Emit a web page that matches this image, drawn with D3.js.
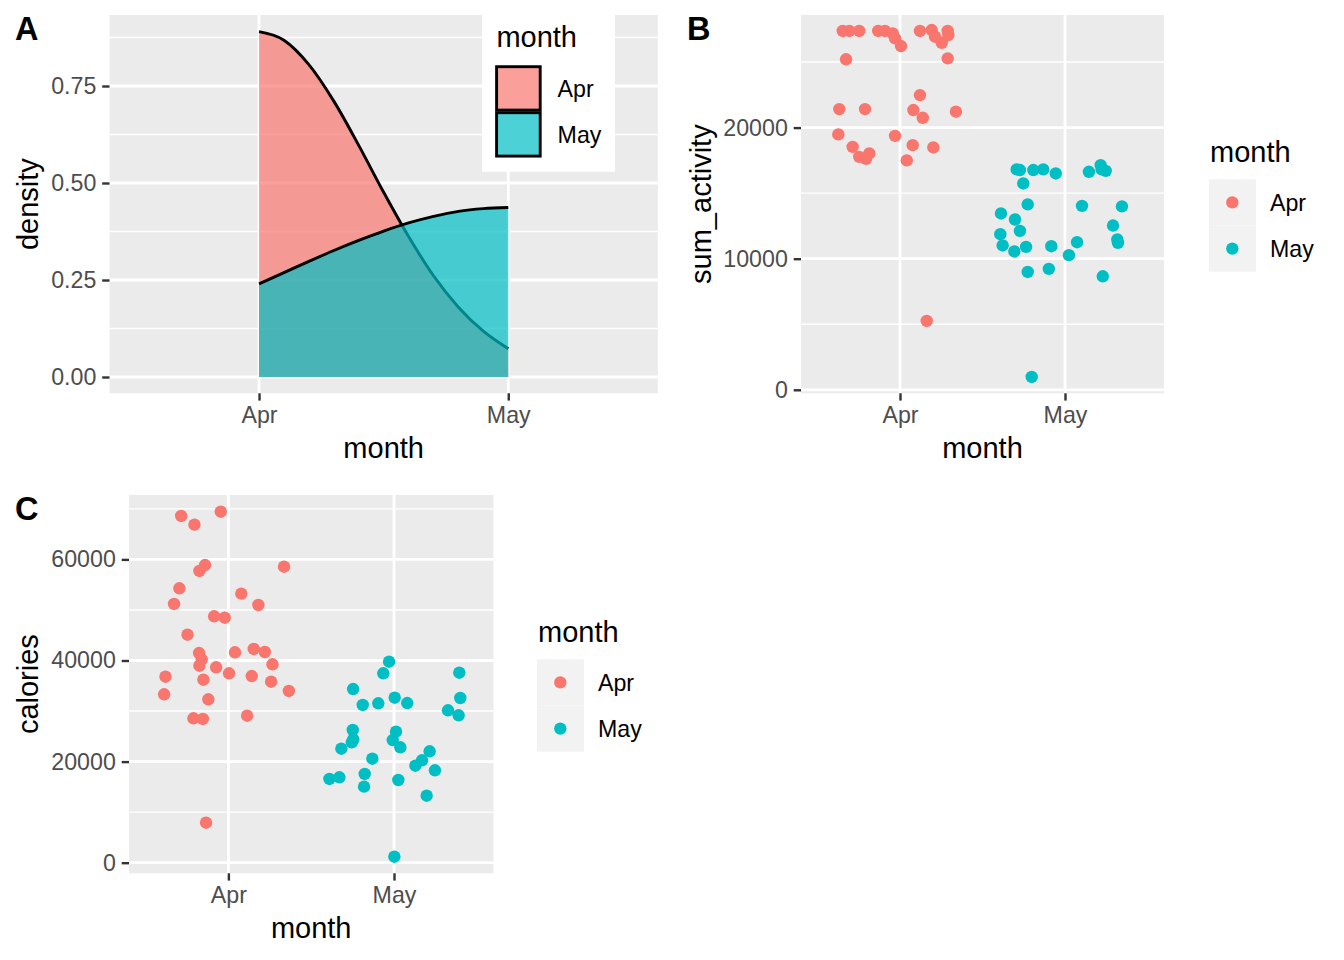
<!DOCTYPE html>
<html>
<head>
<meta charset="utf-8">
<script src="https://cdn.jsdelivr.net/npm/d3@7"></script>
<style>
  body { margin: 0; background: #fff; }
  svg { display: block; font-family: "Liberation Sans", Arial, sans-serif; }
</style>
</head>
<body>
<div id="chart"></div>
<script>
const months = ['Apr', 'May'];
const monthColors = ['#F8766D', '#00BFC4'];

// panel A: density curves read between Apr (1) and May (2)
const densityX = [1.0, 1.1, 1.2, 1.3, 1.4, 1.5, 1.6, 1.7, 1.8, 1.9, 2.0];
const densityApr = [0.890, 0.868, 0.805, 0.711, 0.597, 0.476, 0.362, 0.261, 0.180, 0.118, 0.073];
const densityMay = [0.240, 0.269, 0.298, 0.326, 0.352, 0.376, 0.397, 0.414, 0.427, 0.434, 0.437];
const densityTicks = [0, 0.25, 0.5, 0.75];

// panel B: sum_activity, jittered month position + value
const activityAprX = [0.653, 0.693, 0.753, 0.868, 0.909, 0.956, 0.970, 1.006, 1.121, 1.192, 1.212, 1.253, 1.289, 1.293, 0.673, 1.289,
  1.121, 0.632, 0.788, 1.081, 1.138, 1.339, 0.626, 0.970, 0.713, 1.077, 1.202, 0.753, 0.794, 0.814, 1.041, 1.162];
const activityApr = [27370, 27370, 27370, 27370, 27370, 27190, 26810, 26220, 27370, 27440, 26930, 26470, 27370, 27060, 25210, 25280,
  22480, 21410, 21410, 21340, 20750, 21210, 19480, 19370, 18530, 18660, 18490, 17770, 17620, 18030, 17500, 5250];
const activityMayX = [1.707, 1.727, 1.808, 1.868, 1.944, 1.747, 2.145, 2.216, 2.222, 2.247, 1.774, 2.103, 2.345, 1.612, 1.697,
  1.727, 1.608, 1.622, 1.693, 1.764, 1.917, 2.073, 2.291, 2.317, 2.321, 2.024, 1.774, 1.902, 2.229, 1.798];
const activityMay = [16810, 16760, 16760, 16810, 16500, 15740, 16630, 17140, 16810, 16700, 14140, 14030, 13990, 13450, 12990,
  12120, 11870, 11010, 10550, 10900, 10950, 11260, 12530, 11470, 11210, 10270, 8990, 9220, 8660, 980];
const activityTicks = [0, 10000, 20000];

// panel C: calories
const caloriesAprX = [0.715, 0.795, 0.954, 0.859, 0.825, 1.336, 0.704, 0.672, 1.078, 1.181, 0.914, 0.978, 0.753, 0.823, 0.839, 0.825, 1.040,
  1.153, 1.220, 1.266, 0.620, 0.849, 0.926, 1.004, 1.141, 1.258, 1.365, 0.612, 0.879, 0.789, 0.846, 1.113, 0.865];
const caloriesApr = [68600, 66870, 69440, 58890, 57710, 58560, 54280, 51180, 53220, 50980, 48740, 48470, 45100, 41480, 40240, 38970, 41620,
  42280, 41680, 39250, 36800, 36200, 38660, 37470, 36930, 35810, 33970, 33310, 32320, 28570, 28430, 29080, 7910];
const caloriesMayX = [1.970, 1.935, 2.394, 1.753, 1.811, 1.905, 2.004, 2.080, 2.400, 2.326, 2.390, 1.751, 1.754, 1.745, 1.682,
  2.012, 1.992, 2.038, 1.869, 2.215, 2.169, 2.129, 2.247, 1.610, 1.670, 1.823, 1.819, 2.026, 2.197, 2.002];
const caloriesMay = [39760, 37470, 37590, 34360, 31200, 31530, 32640, 31590, 32580, 30150, 29160, 26250, 24410, 23820, 22550,
  25920, 24270, 22830, 20570, 22040, 20260, 19190, 18280, 16560, 16890, 17550, 15040, 16360, 13250, 1190];
const caloriesTicks = [0, 20000, 40000, 60000];

const width = 1344;
const height = 960;
const tickFont = 23.2;
const titleFont = 29;

const svg = d3.select('#chart')
  .append('svg')
  .attr('width', width)
  .attr('height', height)
  .attr('viewBox', [0, 0, width, height]);

svg.append('rect').attr('width', width).attr('height', height).attr('fill', '#fff');

function panel(box, yDomain, yTicks, minorTicks, fmt, yTitle, titleX) {
  const x = d3.scaleLinear().domain([0.4, 2.6]).range([box.x0, box.x1]);
  const y = d3.scaleLinear().domain(yDomain).range([box.y1, box.y0]);
  const g = svg.append('g');

  g.append('rect')
    .attr('x', box.x0).attr('y', box.y0)
    .attr('width', box.x1 - box.x0).attr('height', box.y1 - box.y0)
    .attr('fill', '#EBEBEB');

  g.selectAll('.minor').data(minorTicks).join('line')
    .attr('x1', box.x0).attr('x2', box.x1)
    .attr('y1', d => y(d)).attr('y2', d => y(d))
    .attr('stroke', '#fff').attr('stroke-width', 1.4);
  g.selectAll('.majorY').data(yTicks).join('line')
    .attr('x1', box.x0).attr('x2', box.x1)
    .attr('y1', d => y(d)).attr('y2', d => y(d))
    .attr('stroke', '#fff').attr('stroke-width', 2.8);
  g.selectAll('.majorX').data([1, 2]).join('line')
    .attr('x1', d => x(d)).attr('x2', d => x(d))
    .attr('y1', box.y0).attr('y2', box.y1)
    .attr('stroke', '#fff').attr('stroke-width', 2.8);

  const yAxis = svg.append('g')
    .attr('transform', `translate(${box.x0},0)`)
    .call(d3.axisLeft(y).tickValues(yTicks).tickSize(7.3).tickPadding(5.9).tickFormat(fmt));
  const xAxis = svg.append('g')
    .attr('transform', `translate(0,${box.y1})`)
    .call(d3.axisBottom(x).tickValues([1, 2]).tickSize(7.3).tickPadding(5.9).tickFormat(d => months[d - 1]));
  [yAxis, xAxis].forEach(a => {
    a.attr('font-size', null).attr('font-family', null);
    a.select('.domain').remove();
    a.selectAll('.tick line').attr('stroke', '#333333').attr('stroke-width', 2.4);
    a.selectAll('.tick text').attr('fill', '#4D4D4D').attr('font-size', tickFont);
  });

  svg.append('text')
    .attr('x', (box.x0 + box.x1) / 2).attr('y', box.y1 + 65)
    .attr('text-anchor', 'middle').attr('font-size', titleFont)
    .text('month');
  svg.append('text')
    .attr('transform', `translate(${titleX},${(box.y0 + box.y1) / 2}) rotate(-90)`)
    .attr('text-anchor', 'middle').attr('font-size', titleFont)
    .text(yTitle);

  return {x, y, g};
}

function pointLegend(x0, y0) {
  const lg = svg.append('g').attr('transform', `translate(${x0},${y0})`);
  lg.append('text').attr('x', 1).attr('y', -17.6).attr('font-size', titleFont).text('month');
  months.forEach((m, i) => {
    lg.append('rect').attr('x', 0).attr('y', i * 46.2).attr('width', 47).attr('height', 46.2).attr('fill', '#F2F2F2');
    lg.append('circle').attr('cx', 23.3).attr('cy', i * 46.2 + 23.1).attr('r', 6.2).attr('fill', monthColors[i]);
    lg.append('text').attr('x', 61).attr('y', i * 46.2 + 23.1 + 8.3).attr('font-size', tickFont).text(m);
  });
}

function drawPoints(p, xs, ys, color) {
  p.g.append('g').selectAll('circle').data(ys).join('circle')
    .attr('cx', (d, i) => p.x(xs[i]))
    .attr('cy', d => p.y(d))
    .attr('r', 6.2)
    .attr('fill', color);
}

// ---- A: density
const pa = panel({x0: 109.5, x1: 657.8, y0: 15, y1: 393.3}, [-0.042, 0.933], densityTicks,
  [0.125, 0.375, 0.625, 0.875], d3.format('.2f'), 'density', 38);

[densityApr, densityMay].forEach((vals, k) => {
  const pts = densityX.map((d, i) => [d, vals[i]]);
  const area = d3.area().x(d => pa.x(d[0])).y0(pa.y(0)).y1(d => pa.y(d[1])).curve(d3.curveMonotoneX);
  const line = d3.line().x(d => pa.x(d[0])).y(d => pa.y(d[1])).curve(d3.curveMonotoneX);
  pa.g.append('path').attr('d', area(pts)).attr('fill', monthColors[k]).attr('fill-opacity', 0.7);
  pa.g.append('path').attr('d', line(pts)).attr('fill', 'none').attr('stroke', '#000').attr('stroke-width', 2.9);
});

const la = svg.append('g');
la.append('rect').attr('x', 482).attr('y', 15).attr('width', 133).attr('height', 156.7).attr('fill', '#fff');
la.append('text').attr('x', 496.4).attr('y', 46.7).attr('font-size', titleFont).text('month');
months.forEach((m, i) => {
  la.append('rect')
    .attr('x', 496.6).attr('y', 66.7 + i * 46)
    .attr('width', 43.6).attr('height', 43.4)
    .attr('fill', monthColors[i]).attr('fill-opacity', 0.7)
    .attr('stroke', '#000').attr('stroke-width', 2.9);
  la.append('text').attr('x', 557.6).attr('y', 88.5 + i * 46 + 8.3).attr('font-size', tickFont).text(m);
});

// ---- B: sum_activity
const pb = panel({x0: 801, x1: 1164, y0: 15, y1: 393.3}, [-267, 28588], activityTicks,
  [5000, 15000, 25000], d3.format('d'), 'sum_activity', 711);
drawPoints(pb, activityAprX, activityApr, monthColors[0]);
drawPoints(pb, activityMayX, activityMay, monthColors[1]);
pointLegend(1209, 179.3);

// ---- C: calories
const pc = panel({x0: 129, x1: 493.4, y0: 495, y1: 873.3}, [-2097, 72740], caloriesTicks,
  [10000, 30000, 50000, 70000], d3.format('d'), 'calories', 38);
drawPoints(pc, caloriesAprX, caloriesApr, monthColors[0]);
drawPoints(pc, caloriesMayX, caloriesMay, monthColors[1]);
pointLegend(537, 659.3);

// panel tags
[['A', 15, 40], ['B', 687, 40], ['C', 15, 520]].forEach(([t, x, y]) => {
  svg.append('text').attr('x', x).attr('y', y)
    .attr('font-size', 32.5).attr('font-weight', 'bold').text(t);
});
</script>
</body>
</html>
